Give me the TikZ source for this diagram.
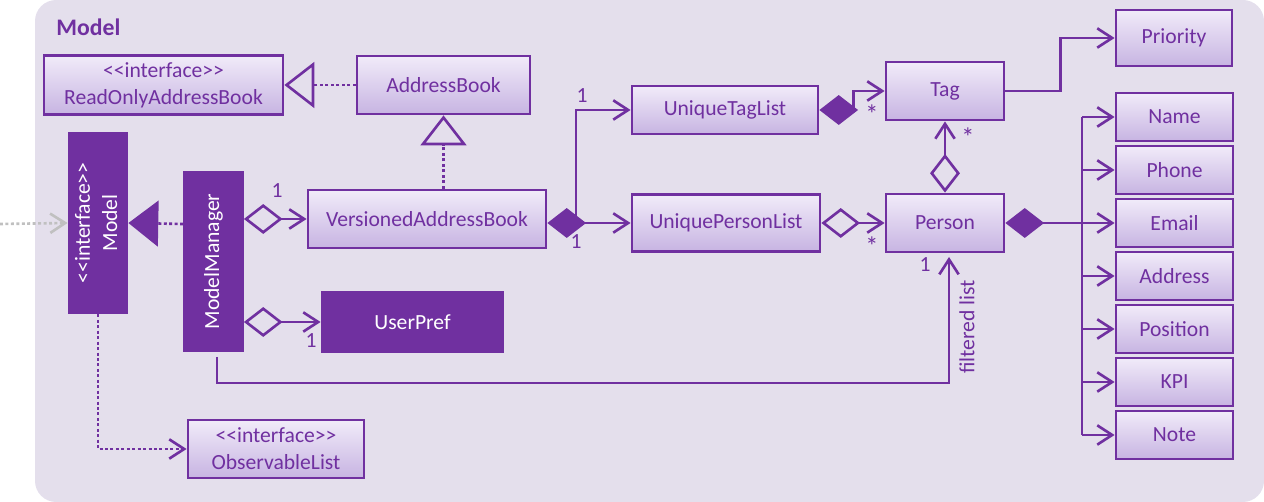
\documentclass[tikz,border=0pt]{standalone}
\usepackage{fontspec}
\usepackage{graphicx}
\setmainfont{Carlito}[Ligatures=TeXOff]
\usetikzlibrary{arrows.meta}

\definecolor{umlpurple}{HTML}{7030A0}
\definecolor{panelbg}{HTML}{E4DFEC}
\definecolor{boxtop}{HTML}{F1EBF9}
\definecolor{boxbot}{HTML}{C7B4E2}
\definecolor{extgray}{HTML}{C0C0C0}

\tikzset{
  cls/.style={draw=umlpurple, line width=1.6pt, top color=boxtop, bottom color=boxbot,
    text=umlpurple, inner sep=0pt, align=center},
  darkcls/.style={draw=umlpurple, line width=1.6pt, fill=umlpurple, text=white,
    inner sep=0pt, align=center},
  sz/.style 2 args={minimum width=#1*0.02cm, minimum height=#2*0.02cm},
  conn/.style={draw=umlpurple, line width=1.5pt},
  dots/.style={conn, dash pattern=on 1.7pt off 1.4pt},
  lbl/.style={text=umlpurple, inner sep=0pt},
  star/.style={lbl, font=\fontsize{15}{16}\selectfont},
  barb/.tip={Straight Barb[length=8.5pt,width=11pt]},
  odiam/.tip={Diamond[open,length=22pt,width=17pt]},
  fdiam/.tip={Diamond[length=22pt,width=17pt]},
  otri/.tip={Triangle[open,length=17pt,width=26pt]},
  ftri/.tip={Triangle[length=17pt,width=26pt]},
}

\begin{document}
\begin{tikzpicture}[x=0.02cm, y=-0.02cm, font=\fontsize{12.3}{15.5}\selectfont]

  \useasboundingbox (0,0) rectangle (1264,502);
  \fill[panelbg, rounded corners=12pt] (35,0) rectangle (1264,502);
  \node[lbl, anchor=west, font=\bfseries\fontsize{13.5}{16}\selectfont] (title) at (56,27) {Model};

  % classes
  \begin{scope}[every node/.style={cls}]
    \node[sz={239}{59}] (rob) at (163.5,85) {<<interface>>\\ReadOnlyAddressBook};
    \node[sz={173}{58}] (ab) at (443.5,85) {AddressBook};
    \node[sz={238}{58}] (vab) at (427,219) {VersionedAddressBook};
    \node[sz={176}{58}] (obs) at (276,449) {<<interface>>\\ObservableList};
    \node[sz={186}{48}] (utl) at (725,110) {UniqueTagList};
    \node[sz={188}{57}] (upl) at (726,223) {UniquePersonList};
    \node[sz={118}{58}] (tag) at (945,91) {Tag};
    \node[sz={118}{58}] (person) at (945,223) {Person};
    \node[sz={116}{56}] (priority) at (1174,38) {Priority};
    \foreach \nm/\txt [count=\i from 0] in {name/Name, phone/Phone, email/Email,
        address/Address, position/Position, kpi/KPI, note/Note}
      \node[sz={117}{48}] (\nm) at (1174.5,117+53*\i) {\txt};
  \end{scope}

  \begin{scope}[every node/.style={darkcls}]
    \node[sz={58}{180}] (model) at (98,223)
      {\rotatebox{90}{\begin{tabular}{@{}c@{}}<<interface>>\\Model\end{tabular}}};
    \node[sz={58}{179}] (mm) at (213.5,261.5) {\rotatebox{90}{ModelManager}};
    \node[sz={181}{60}] (up) at (412.5,322) {UserPref};
  \end{scope}

  \coordinate (ext) at (0,224);
  \coordinate (mmfoot) at (217,357);
  \coordinate (pfoot) at (949,257);
  \coordinate (vsplit) at (576,223);
  \coordinate (jn) at (1082,223);

  % connectors
  \draw[dots, -otri] (ab.west) -- (rob.east);
  \draw[dots, -otri] (ab.south |- vab.north) -- (ab.south);
  \draw[dots, -ftri] (mm.west |- ext) -- (model.east);
  \draw[extgray, line width=1.5pt, dash pattern=on 1.7pt off 1.4pt, -barb] (ext) -- (model.west);
  \draw[dots, -barb] (model.south) |- (obs.west);
  \draw[conn, odiam-barb] (mm.east |- vab) -- (vab.west);
  \draw[conn, odiam-barb] (mm.east |- up) -- (up.west);
  \draw[conn, -barb] (mmfoot) -- ++(0,26) -| (pfoot);
  \draw[conn, fdiam-barb] (vab.east |- upl) -- (upl.west);
  \draw[conn, -barb] (vsplit) |- (utl.west);
  \draw[conn, fdiam-barb] (utl.east) -- ++(34,0) |- (tag.west);
  \draw[conn, odiam-barb] (upl.east) -- (person.west);
  \draw[conn, odiam-barb] (person.north) -- (tag.south);
  \draw[conn, -barb] (tag.east) -- ++(55,0) |- (priority.west);
  \draw[conn, fdiam-] (person.east) -- (jn);
  \draw[conn] (jn |- name) -- (jn |- note);
  \foreach \nm in {name, phone, email, address, position, kpi, note}
    \draw[conn, -barb] (jn |- \nm) -- (\nm.west);

  % multiplicities
  \begin{scope}[every node/.style={lbl}]
    \node (m1) at (277,191) {1};
    \node (m2) at (311,341) {1};
    \node (m3) at (582,96) {1};
    \node (m4) at (576,242) {1};
    \node[star] (m5) at (872,114) {*};
    \node[star] (m6) at (872,246) {*};
    \node[star] (m7) at (968,137) {*};
    \node (m8) at (925,265) {1};
    \node[rotate=90] (fl) at (967,327) {filtered list};
  \end{scope}

\end{tikzpicture}
\end{document}
